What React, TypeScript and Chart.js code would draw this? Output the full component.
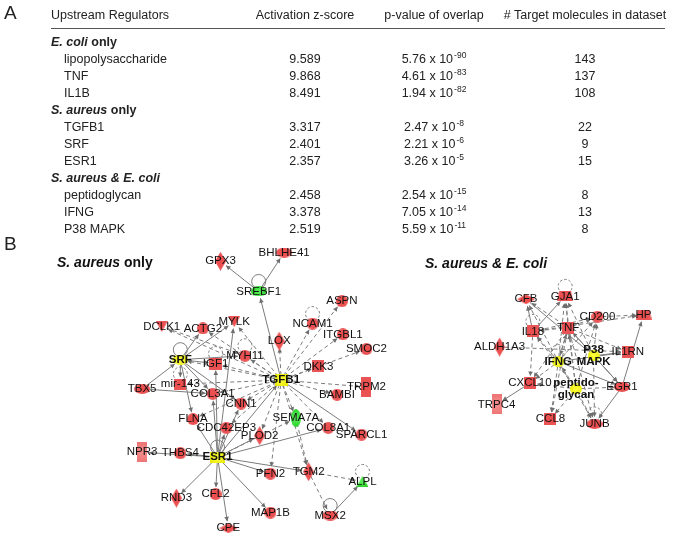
import React, { useEffect, useRef } from "react";
import { Chart, registerables } from "chart.js";

Chart.register(...registerables);

// ---------------- Table A data ----------------
const GROUP_SPECIES = ["E. coli", "S. aureus", "S. aureus & E. coli"];
const GROUP_SUFFIX = [" only", " only", ""];
const REGULATORS = ["lipopolysaccharide", "TNF", "IL1B", "TGFB1", "SRF", "ESR1", "peptidoglycan", "IFNG", "P38 MAPK"];
const REGULATOR_GROUP = [0, 0, 0, 1, 1, 1, 2, 2, 2];
const Z_SCORES = ["9.589", "9.868", "8.491", "3.317", "2.401", "2.357", "2.458", "3.378", "2.519"];
const P_MANTISSA = ["5.76", "4.61", "1.94", "2.47", "2.21", "3.26", "2.54", "7.05", "5.59"];
const P_EXPONENT = ["-90", "-83", "-82", "-8", "-6", "-5", "-15", "-14", "-11"];
const TARGET_COUNTS = [143, 137, 108, 22, 9, 15, 8, 13, 8];
const COLUMN_HEADERS = ["Upstream Regulators", "Activation z-score", "p-value of overlap", "# Target molecules in dataset"];

// ---------------- Network B data ----------------
const LEFT_TITLE = ["S. aureus", " only"];
const RIGHT_TITLE = ["S. aureus & E. coli", ""];

const LEFT_NODES = ["GPX3", "BHLHE41", "SREBF1", "ASPN", "DCLK1", "ACTG2", "MYLK", "NCAM1", "ITGBL1", "LOX", "SMOC2", "SRF", "IGF1", "MYH11", "DKK3", "mir-143", "TBX5", "TGFB1", "TRPM2", "COL3A1", "BAMBI", "CNN1", "FLNA", "SEMA7A", "CDC42EP3", "COL8A1", "PLOD2", "SPARCL1", "NPR3", "THBS4", "ESR1", "PFN2", "TGM2", "ALPL", "RND3", "CFL2", "MAP1B", "MSX2", "CPE"];
const LEFT_X = [218, 283, 257, 342, 158, 200, 232, 312, 343, 278, 367, 177, 213, 243, 318, 177, 138, 280, 367, 210, 337, 239, 190, 295, 224, 328, 258, 362, 138, 177, 215, 269, 308, 363, 173, 213, 269, 330, 226];
const LEFT_Y = [261, 252, 292, 302, 328, 330, 323, 325, 336, 343, 351, 362, 366, 358, 369, 387, 392, 383, 390, 397, 398, 407, 423, 422, 432, 432, 440, 439, 457, 458, 462, 479, 477, 487, 504, 500, 519, 522, 535];
const LEFT_TYPE = ["enzyme", "transcription", "transcription", "other", "kinase", "other", "kinase", "other", "other", "enzyme", "other", "transcription", "growth", "other", "cytokine", "microRNA", "transcription", "growth", "channel", "other", "other", "other", "other", "receptor", "other", "other", "enzyme", "other", "channel", "other", "nuclear", "other", "enzyme", "phosphatase", "enzyme", "other", "other", "transcription", "peptidase"];
const LEFT_REG = ["up", "up", "down", "up", "up", "up", "up", "up", "up", "up", "up", "regulator", "up", "up", "up", "up", "up", "regulator", "up", "up", "up", "up", "up", "down", "up", "up", "up", "up", "weak", "up", "regulator", "up", "up", "down", "up", "up", "up", "up", "up"];
const LEFT_EDGES: [string, string, string][] = [
  ["SREBF1", "GPX3", "d"], ["SREBF1", "BHLHE41", "d"], ["TGFB1", "SREBF1", "d"], ["SREBF1", "SREBF1", "d"],
  ["TGFB1", "ASPN", "i"], ["TGFB1", "ITGBL1", "i"], ["TGFB1", "SMOC2", "i"], ["TGFB1", "DKK3", "i"],
  ["TGFB1", "TRPM2", "i"], ["TGFB1", "BAMBI", "i"], ["TGFB1", "SPARCL1", "d"], ["TGFB1", "COL8A1", "i"],
  ["TGFB1", "SEMA7A", "i"], ["TGFB1", "PLOD2", "i"], ["TGFB1", "PFN2", "i"], ["TGFB1", "TGM2", "i"],
  ["TGFB1", "CNN1", "i"], ["TGFB1", "COL3A1", "i"], ["TGFB1", "CDC42EP3", "i"], ["TGFB1", "IGF1", "i"],
  ["TGFB1", "MYH11", "i"], ["TGFB1", "MYLK", "i"], ["TGFB1", "LOX", "i"], ["TGFB1", "NCAM1", "i"],
  ["TGFB1", "SRF", "i"], ["TGFB1", "mir-143", "i"], ["TGFB1", "FLNA", "i"], ["TGFB1", "ACTG2", "i"],
  ["TGFB1", "DCLK1", "i"], ["ESR1", "TGFB1", "d"],
  ["SRF", "ACTG2", "d"], ["SRF", "MYLK", "d"], ["SRF", "IGF1", "d"], ["SRF", "MYH11", "d"],
  ["SRF", "mir-143", "d"], ["TBX5", "SRF", "d"], ["SRF", "COL3A1", "d"], ["SRF", "CNN1", "d"],
  ["SRF", "FLNA", "d"], ["SRF", "SRF", "d"], ["TBX5", "COL3A1", "d"],
  ["ESR1", "NPR3", "d"], ["ESR1", "THBS4", "d"], ["ESR1", "RND3", "d"], ["ESR1", "CFL2", "d"],
  ["ESR1", "CPE", "d"], ["ESR1", "MAP1B", "d"], ["ESR1", "PFN2", "d"], ["ESR1", "TGM2", "d"],
  ["ESR1", "COL8A1", "d"], ["ESR1", "PLOD2", "d"], ["ESR1", "CDC42EP3", "d"], ["ESR1", "CNN1", "d"],
  ["ESR1", "COL3A1", "d"], ["ESR1", "IGF1", "d"], ["ESR1", "MYLK", "d"], ["ESR1", "FLNA", "d"],
  ["ESR1", "ESR1", "d"], ["SEMA7A", "TGM2", "i"], ["TGM2", "MSX2", "i"], ["MSX2", "ALPL", "d"],
  ["TGM2", "ALPL", "i"], ["MSX2", "MSX2", "d"], ["ALPL", "ALPL", "i"], ["IGF1", "IGF1", "i"],
  ["MYH11", "MYH11", "i"], ["NCAM1", "NCAM1", "i"], ["mir-143", "mir-143", "i"], ["DCLK1", "MYH11", "i"],
  ["ESR1", "SEMA7A", "i"],
];

const RIGHT_NODES = ["CFB", "GJA1", "CD200", "HP", "TNF", "IL18", "ALDH1A3", "P38 MAPK", "IL1RN", "IFNG", "CXCL10", "peptidoglycan", "EGR1", "TRPC4", "CCL8", "JUNB"];
const RIGHT_LABELS = ["CFB", "GJA1", "CD200", "HP", "TNF", "IL18", "ALDH1A3", "P38\nMAPK", "IL1RN", "IFNG", "CXCL10", "peptido-\nglycan", "EGR1", "TRPC4", "CCL8", "JUNB"];
const RIGHT_X = [530, 570, 603, 650, 573, 537, 503, 599, 634, 563, 534, 581, 628, 500, 555, 600];
const RIGHT_Y = [300, 297, 318, 316, 329, 333, 349, 358, 354, 364, 386, 392, 390, 408, 423, 428];
const RIGHT_TYPE = ["peptidase", "transporter", "other", "transporter", "cytokine", "cytokine", "enzyme", "group", "cytokine", "group", "cytokine", "group", "transcription", "channel", "cytokine", "transcription"];
const RIGHT_REG = ["up", "up", "up", "up", "up", "up", "up", "regulator", "up", "regulator", "up", "regulator", "up", "weak", "up", "up"];
const RIGHT_EDGES: [string, string, string][] = [
  ["TNF", "CFB", "i"], ["TNF", "GJA1", "i"], ["TNF", "CD200", "i"], ["TNF", "IL18", "i"],
  ["TNF", "IL1RN", "i"], ["TNF", "CXCL10", "i"], ["TNF", "CCL8", "i"], ["TNF", "JUNB", "i"],
  ["TNF", "EGR1", "d"], ["TNF", "IFNG", "i"],
  ["IFNG", "CFB", "i"], ["IFNG", "GJA1", "i"], ["IFNG", "IL18", "i"], ["IFNG", "CXCL10", "i"],
  ["IFNG", "CCL8", "i"], ["IFNG", "JUNB", "i"], ["IFNG", "EGR1", "d"], ["IFNG", "TNF", "i"],
  ["IFNG", "IL1RN", "d"], ["IFNG", "CD200", "i"], ["IFNG", "IFNG", "i"],
  ["IL18", "GJA1", "d"], ["IL18", "CXCL10", "i"], ["IL18", "CD200", "i"], ["IL18", "IL18", "i"],
  ["IL18", "CFB", "d"], ["IL18", "HP", "i"],
  ["P38 MAPK", "TNF", "d"], ["P38 MAPK", "IL1RN", "d"], ["P38 MAPK", "EGR1", "d"], ["P38 MAPK", "JUNB", "i"],
  ["P38 MAPK", "CD200", "i"], ["CFB", "P38 MAPK", "d"], ["P38 MAPK", "GJA1", "i"],
  ["peptidoglycan", "TNF", "i"], ["peptidoglycan", "IFNG", "i"], ["peptidoglycan", "CXCL10", "i"],
  ["peptidoglycan", "CCL8", "i"], ["peptidoglycan", "JUNB", "i"], ["peptidoglycan", "EGR1", "i"],
  ["peptidoglycan", "IL18", "i"], ["peptidoglycan", "GJA1", "i"], ["peptidoglycan", "CD200", "i"],
  ["ALDH1A3", "IL1RN", "i"], ["CD200", "HP", "i"], ["CXCL10", "TRPC4", "d"], ["EGR1", "JUNB", "d"],
  ["EGR1", "HP", "d"], ["JUNB", "JUNB", "i"], ["GJA1", "GJA1", "i"],
];

// ---------------- styling helpers ----------------
const FONT = '"Liberation Sans", Arial, Helvetica, sans-serif';

function fillFor(ctx: CanvasRenderingContext2D, reg: string, w: number, h: number) {
  const g = ctx.createRadialGradient(w / 2, h / 2, 0, w / 2, h / 2, Math.max(w, h) / 1.5);
  if (reg === "regulator") { g.addColorStop(0, "#ffff40"); g.addColorStop(1, "#e6e600"); }
  else if (reg === "down") { g.addColorStop(0, "#5ef05e"); g.addColorStop(1, "#18c818"); }
  else if (reg === "weak") { g.addColorStop(0, "#f59090"); g.addColorStop(1, "#ec6c6c"); }
  else { g.addColorStop(0, "#ee4c4c"); g.addColorStop(1, "#e8585a"); }
  return g;
}

function makeShape(type: string, reg: string): HTMLCanvasElement {
  let w = 12, h = 12;
  switch (type) {
    case "enzyme": w = 11; h = 19; break;
    case "transcription": w = 16; h = 10; break;
    case "kinase": w = 12; h = 11; break;
    case "phosphatase": w = 12; h = 11; break;
    case "growth": w = 13; h = 12; break;
    case "cytokine": w = 12; h = 12; break;
    case "microRNA": w = 12; h = 11; break;
    case "channel": w = 10; h = 20; break;
    case "peptidase": w = 18; h = 10; break;
    case "receptor": w = 10; h = 18; break;
    case "nuclear": w = 15; h = 11; break;
    case "transporter": w = 16; h = 10; break;
    case "group": w = 12; h = 11; break;
    default: w = 12; h = 12;
  }
  const c = document.createElement("canvas");
  c.width = w; c.height = h;
  const ctx = c.getContext("2d")!;
  ctx.fillStyle = fillFor(ctx, reg, w, h);
  ctx.beginPath();
  switch (type) {
    case "enzyme":
      ctx.moveTo(w / 2, 0); ctx.lineTo(w, h / 2); ctx.lineTo(w / 2, h); ctx.lineTo(0, h / 2); break;
    case "peptidase":
      ctx.moveTo(0, h / 2); ctx.lineTo(w / 2, 0); ctx.lineTo(w, h / 2); ctx.lineTo(w / 2, h); break;
    case "transcription":
    case "receptor":
    case "group":
    case "other":
      ctx.ellipse(w / 2, h / 2, w / 2, h / 2, 0, 0, Math.PI * 2); break;
    case "kinase":
      ctx.moveTo(0, 0); ctx.lineTo(w, 0); ctx.lineTo(w / 2, h); break;
    case "phosphatase":
      ctx.moveTo(w / 2, 0); ctx.lineTo(w, h); ctx.lineTo(0, h); break;
    case "transporter":
      ctx.moveTo(2, 0); ctx.lineTo(w - 2, 0); ctx.lineTo(w, h); ctx.lineTo(0, h); break;
    default:
      ctx.rect(0, 0, w, h);
  }
  ctx.closePath();
  ctx.fill();
  return c;
}

function drawArrow(ctx: CanvasRenderingContext2D, x1: number, y1: number, x2: number, y2: number, dashed: boolean) {
  const dx = x2 - x1, dy = y2 - y1;
  const L = Math.hypot(dx, dy);
  if (L < 1) return;
  const ux = dx / L, uy = dy / L;
  const sx = x1 + ux * 5, sy = y1 + uy * 5;
  const ex = x2 - ux * 7, ey = y2 - uy * 7;
  ctx.setLineDash(dashed ? [4, 3] : []);
  ctx.beginPath(); ctx.moveTo(sx, sy); ctx.lineTo(ex, ey); ctx.stroke();
  ctx.setLineDash([]);
  const ah = 4.5, aw = 2.3;
  ctx.beginPath();
  ctx.moveTo(ex, ey);
  ctx.lineTo(ex - ux * ah - uy * aw, ey - uy * ah + ux * aw);
  ctx.lineTo(ex - ux * ah + uy * aw, ey - uy * ah - ux * aw);
  ctx.closePath(); ctx.fill();
}

function drawLoop(ctx: CanvasRenderingContext2D, x: number, y: number, dashed: boolean) {
  ctx.setLineDash(dashed ? [2.5, 2] : []);
  ctx.beginPath();
  ctx.arc(x, y - 10, 7, Math.PI * 0.62, Math.PI * 0.38 + Math.PI * 2);
  ctx.stroke();
  ctx.setLineDash([]);
}

type Net = { names: string[]; labels: string[]; xs: number[]; ys: number[]; regs: string[]; edges: [string, string, string][] };
const NETS: Net[] = [
  { names: LEFT_NODES, labels: LEFT_NODES, xs: LEFT_X, ys: LEFT_Y, regs: LEFT_REG, edges: LEFT_EDGES },
  { names: RIGHT_NODES, labels: RIGHT_LABELS, xs: RIGHT_X, ys: RIGHT_Y, regs: RIGHT_REG, edges: RIGHT_EDGES },
];

const networkPlugin = {
  id: "networkPlugin",
  beforeDatasetsDraw(chart: any) {
    const ctx: CanvasRenderingContext2D = chart.ctx;
    const sx = chart.scales.x, sy = chart.scales.y;
    ctx.save();
    ctx.strokeStyle = "#7c7c7c";
    ctx.fillStyle = "#6e6e6e";
    ctx.lineWidth = 1;
    NETS.forEach((net) => {
      net.edges.forEach(([a, b, kind]) => {
        const ia = net.names.indexOf(a), ib = net.names.indexOf(b);
        if (ia < 0 || ib < 0) return;
        const x1 = sx.getPixelForValue(net.xs[ia]), y1 = sy.getPixelForValue(net.ys[ia]);
        const x2 = sx.getPixelForValue(net.xs[ib]), y2 = sy.getPixelForValue(net.ys[ib]);
        if (ia === ib) drawLoop(ctx, x1, y1, kind === "i");
        else drawArrow(ctx, x1, y1, x2, y2, kind === "i");
      });
    });
    ctx.restore();
  },
  afterDatasetsDraw(chart: any) {
    const ctx: CanvasRenderingContext2D = chart.ctx;
    const sx = chart.scales.x, sy = chart.scales.y;
    ctx.save();
    ctx.fillStyle = "#111111";
    ctx.textAlign = "center";
    ctx.textBaseline = "middle";
    NETS.forEach((net) => {
      net.labels.forEach((label, i) => {
        const x = sx.getPixelForValue(net.xs[i]), y = sy.getPixelForValue(net.ys[i]);
        const bold = net.regs[i] === "regulator";
        ctx.font = `${bold ? "bold " : ""}11.5px ${FONT}`;
        const lines = label.split("\n");
        lines.forEach((ln, k) => {
          ctx.fillText(ln, x, y + (k - (lines.length - 1) / 2) * 12.5);
        });
      });
    });
    ctx.restore();
  },
};

function Superscript({ children }: { children: React.ReactNode }) {
  return <span style={{ fontSize: "8.5px", position: "relative", top: "-5px", marginLeft: 1 }}>{children}</span>;
}

function GroupLabel({ i }: { i: number }) {
  return (
    <b>
      <i>{GROUP_SPECIES[i]}</i>
      {GROUP_SUFFIX[i]}
    </b>
  );
}

export default function App() {
  const ref = useRef<HTMLCanvasElement>(null);

  useEffect(() => {
    const images = [LEFT_TYPE.map((t, i) => makeShape(t, LEFT_REG[i])), RIGHT_TYPE.map((t, i) => makeShape(t, RIGHT_REG[i]))];
    const chart = new Chart(ref.current!, {
      type: "scatter",
      data: {
        datasets: [
          {
            label: "S. aureus only",
            data: LEFT_X.map((x, i) => ({ x, y: LEFT_Y[i] })),
            pointStyle: (c: any) => images[0][c.dataIndex],
            pointRadius: 6,
            clip: false,
          } as any,
          {
            label: "S. aureus & E. coli",
            data: RIGHT_X.map((x, i) => ({ x, y: RIGHT_Y[i] })),
            pointStyle: (c: any) => images[1][c.dataIndex],
            pointRadius: 6,
            clip: false,
          } as any,
        ],
      },
      options: {
        responsive: false,
        animation: false,
        events: [],
        layout: { padding: 0 },
        plugins: { legend: { display: false }, tooltip: { enabled: false } },
        scales: {
          x: { type: "linear", min: 0, max: 675, display: false },
          y: { type: "linear", min: 0, max: 543, reverse: true, display: false },
        },
      },
      plugins: [networkPlugin],
    });
    return () => chart.destroy();
  }, []);

  const rows: { kind: "group" | "item"; idx: number }[] = [];
  GROUP_SPECIES.forEach((_, g) => {
    rows.push({ kind: "group", idx: g });
    REGULATORS.forEach((_, r) => { if (REGULATOR_GROUP[r] === g) rows.push({ kind: "item", idx: r }); });
  });
  const firstY = 42, step = 17;
  const colCenters = [0, 305, 434, 585];
  const cellBase: React.CSSProperties = { position: "absolute", whiteSpace: "nowrap", lineHeight: "14px", height: 14 };
  const centered = (x: number, y: number): React.CSSProperties => ({ ...cellBase, left: x, top: y - 7, transform: "translateX(-50%)" });
  const leftAt = (x: number, y: number): React.CSSProperties => ({ ...cellBase, left: x, top: y - 7 });

  return (
    <div style={{ position: "absolute", left: 0, top: 0, width: 675, height: 543, background: "#fff", overflow: "hidden", fontFamily: FONT, color: "#222", fontSize: "12.5px" }}>
      <canvas ref={ref} width={675} height={543} style={{ position: "absolute", left: 0, top: 0, width: 675, height: 543 }} />
      <div style={{ position: "absolute", left: 4, top: 2, fontSize: 19, lineHeight: "22px" }}>A</div>
      <div style={leftAt(51, 15)}>{COLUMN_HEADERS[0]}</div>
      {COLUMN_HEADERS.slice(1).map((h, k) => (
        <div key={h} style={centered(colCenters[k + 1], 15)}>{h}</div>
      ))}
      <div style={{ position: "absolute", left: 51, top: 28, width: 614, height: 0, borderTop: "1.5px solid #555" }} />
      {rows.map((row, k) => {
        const y = firstY + k * step;
        if (row.kind === "group") {
          return <div key={"g" + k} style={leftAt(51, y)}><GroupLabel i={row.idx} /></div>;
        }
        const r = row.idx;
        return (
          <React.Fragment key={"r" + k}>
            <div style={leftAt(64, y)}>{REGULATORS[r]}</div>
            <div style={centered(colCenters[1], y)}>{Z_SCORES[r]}</div>
            <div style={centered(colCenters[2], y)}>{P_MANTISSA[r]} x 10<Superscript>{P_EXPONENT[r]}</Superscript></div>
            <div style={centered(colCenters[3], y)}>{TARGET_COUNTS[r]}</div>
          </React.Fragment>
        );
      })}
      <div style={{ position: "absolute", left: 4, top: 233, fontSize: 19, lineHeight: "22px" }}>B</div>
      <div style={{ position: "absolute", left: 57, top: 254, fontSize: 14, fontWeight: "bold", lineHeight: "16px", color: "#111" }}>
        <i>{LEFT_TITLE[0]}</i>{LEFT_TITLE[1]}
      </div>
      <div style={{ position: "absolute", left: 425, top: 255, fontSize: 14, fontWeight: "bold", lineHeight: "16px", color: "#111" }}>
        <i>{RIGHT_TITLE[0]}</i>{RIGHT_TITLE[1]}
      </div>
    </div>
  );
}
